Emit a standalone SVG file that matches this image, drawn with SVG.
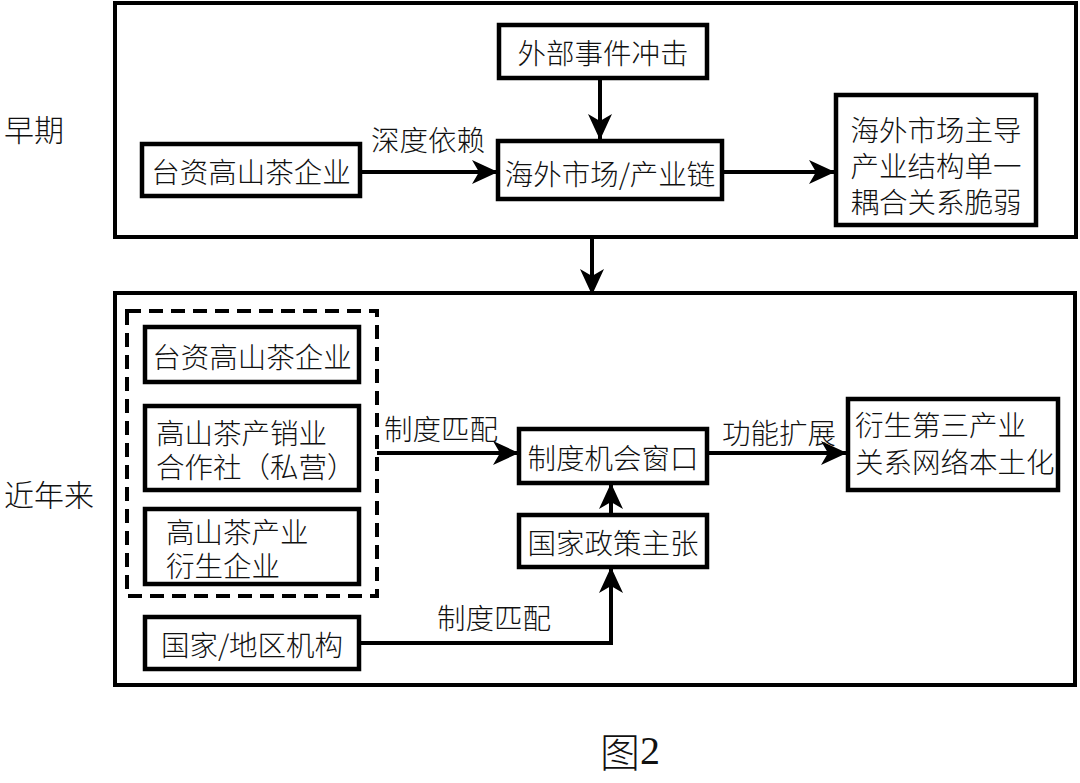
<svg xmlns="http://www.w3.org/2000/svg" width="1080" height="783" viewBox="0 0 1080 783">
<style>
  .frame{fill:none;stroke:#000;stroke-width:4}
  .box{fill:#fff;stroke:#000;stroke-width:4.5}
  .dash{fill:none;stroke:#000;stroke-width:4;stroke-dasharray:14 8}
  .line{fill:none;stroke:#000;stroke-width:4}
  text{font-family:"Noto Sans CJK SC","Liberation Sans",sans-serif;font-size:28.5px;font-weight:300;fill:#111;dominant-baseline:central}
  .c{text-anchor:middle}
  .side{font-size:30px}
</style>
<defs>
  <marker id="arr" markerUnits="userSpaceOnUse" markerWidth="28" markerHeight="26" refX="26" refY="12" orient="auto">
    <path d="M0,0 L26,12 L0,24 L7,12 z" fill="#000"/>
  </marker>
</defs>
<rect width="1080" height="783" fill="#fff"/>

<g id="frames">
  <rect class="frame" x="115" y="3" width="961" height="234"/>
  <rect class="frame" x="115" y="293" width="960" height="392"/>
  <rect class="dash" x="127" y="311" width="250" height="285"/>
</g>

<g id="labels-side">
  <text class="side" x="4" y="128">早期</text>
  <text class="side" x="4" y="493">近年来</text>
  <text x="630" y="750" class="c" style="font-size:40px;font-family:'Noto Sans CJK SC','Liberation Serif',serif">图<tspan style="font-family:'Liberation Serif',serif">2</tspan></text>
</g>

<g id="connectors">
  <line class="line" x1="600" y1="78" x2="600" y2="140" marker-end="url(#arr)"/>
  <line class="line" x1="360" y1="172" x2="498" y2="172" marker-end="url(#arr)"/>
  <line class="line" x1="722" y1="172" x2="835" y2="172" marker-end="url(#arr)"/>
  <line class="line" x1="592" y1="237" x2="592" y2="295" marker-end="url(#arr)"/>
  <line class="line" x1="377" y1="453" x2="519" y2="453" marker-end="url(#arr)"/>
  <line class="line" x1="707" y1="453" x2="847" y2="453" marker-end="url(#arr)"/>
  <line class="line" x1="611" y1="515" x2="611" y2="483" marker-end="url(#arr)"/>
  <polyline class="line" points="359,643 611,643 611,567" marker-end="url(#arr)"/>
  <text x="428" y="138" class="c">深度依赖</text>
  <text x="441" y="427" class="c">制度匹配</text>
  <text x="494" y="616" class="c">制度匹配</text>
  <text x="779" y="431" class="c">功能扩展</text>
</g>

<g id="n-external">
  <rect class="box" x="499" y="25" width="208" height="53"/>
  <text x="603" y="51" class="c">外部事件冲击</text>
</g>
<g id="n-tw-early">
  <rect class="box" x="142" y="144" width="218" height="52"/>
  <text x="251" y="170" class="c">台资高山茶企业</text>
</g>
<g id="n-overseas">
  <rect class="box" x="498" y="141" width="224" height="58"/>
  <text x="610" y="172" class="c">海外市场/产业链</text>
</g>
<g id="n-result-early">
  <rect class="box" x="836" y="95" width="200" height="130"/>
  <text x="936" y="128" class="c">海外市场主导</text>
  <text x="936" y="164" class="c">产业结构单一</text>
  <text x="936" y="200" class="c">耦合关系脆弱</text>
</g>

<g id="n-tw-recent">
  <rect class="box" x="145" y="327" width="214" height="55"/>
  <text x="252" y="355" class="c">台资高山茶企业</text>
</g>
<g id="n-coop">
  <rect class="box" x="145" y="406" width="214" height="84"/>
  <text x="156" y="431">高山茶产销业</text>
  <text x="156" y="465">合作社（私营）</text>
</g>
<g id="n-derived">
  <rect class="box" x="145" y="509" width="214" height="75"/>
  <text x="166" y="530">高山茶产业</text>
  <text x="166" y="564">衍生企业</text>
</g>
<g id="n-agency">
  <rect class="box" x="145" y="617" width="214" height="52"/>
  <text x="252" y="643" class="c">国家/地区机构</text>
</g>
<g id="n-window">
  <rect class="box" x="519" y="429" width="188" height="54"/>
  <text x="613" y="456" class="c">制度机会窗口</text>
</g>
<g id="n-policy">
  <rect class="box" x="519" y="515" width="188" height="52"/>
  <text x="613" y="541" class="c">国家政策主张</text>
</g>
<g id="n-result-recent">
  <rect class="box" x="848" y="399" width="210" height="91"/>
  <text x="855" y="423">衍生第三产业</text>
  <text x="855" y="460">关系网络本土化</text>
</g>
</svg>
